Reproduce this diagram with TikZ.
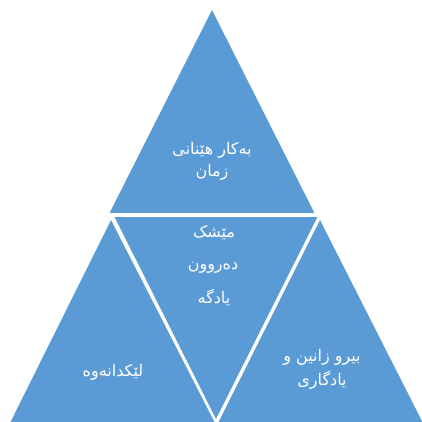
\documentclass[tikz,border=0pt]{standalone}
\usepackage{fontspec}
\newfontfamily\arabicfont[Script=Arabic]{DejaVu Sans}
\TeXXeTstate=1
\definecolor{triblue}{RGB}{91,155,213}
\begin{document}
\begin{tikzpicture}[x=1pt,y=-1pt,
  tri/.style={fill=triblue,draw=white,line width=1.6pt,line join=miter},
  lbl/.style={text=white,font=\arabicfont\fontsize{16}{19}\selectfont,inner sep=0pt}]
\useasboundingbox (0,0) rectangle (422,422);
\fill[white] (0,0) rectangle (422,422);
% triangles
\path[tri] (212,8) -- (108,214) -- (316,214) -- cycle;
\path[tri] (111,218) -- (9,423) -- (216,423) -- cycle;
\path[tri] (320,218) -- (217,423) -- (424,423) -- cycle;
\path[tri] (113,216) -- (319,216) -- (216,421) -- cycle;
% labels
\node[lbl] (t1) at (212,150) {\beginR بەکار هێنانی\endR};
\node[lbl] (t2) at (212,172) {\beginR زمان\endR};
\node[lbl] (m1) at (214,233) {\beginR مێشک\endR};
\node[lbl] (m2) at (213,268) {\beginR دەروون\endR};
\node[lbl] (m3) at (214,298) {\beginR یادگە\endR};
\node[lbl] (l1) at (113,372) {\beginR لێکدانەوە\endR};
\node[lbl] (r1) at (322,357) {\beginR بیرو زانین و\endR};
\node[lbl] (r2) at (322,380) {\beginR یادگاری\endR};
\end{tikzpicture}
\end{document}
